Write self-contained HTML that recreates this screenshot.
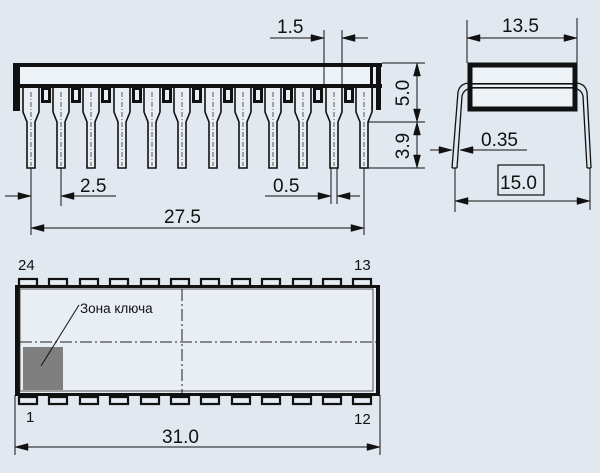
<!DOCTYPE html>
<html><head><meta charset="utf-8"><style>
html,body{margin:0;padding:0;background:#e1e8f0;}
svg{display:block}
text{font-family:"Liberation Sans","DejaVu Sans",sans-serif;fill:#111}
</style></head><body>
<svg width="600" height="473" viewBox="0 0 600 473" xmlns="http://www.w3.org/2000/svg">
<defs>
<g id="pin">
 <path d="M-8,88 V112 L-4,122 V168 H4 V122 L8,112 V88" fill="#e8eef4" stroke="#111" stroke-width="1.6"/>
 <line x1="0" y1="92" x2="0" y2="166" stroke="#333" stroke-width="0.8" stroke-dasharray="5,2,1,2"/>
</g>
<g id="tab"><rect x="-5" y="86" width="10" height="17" fill="#111"/><rect x="-2" y="90" width="4" height="10" fill="#e8eef4"/></g>
<g id="padT"><rect x="-9" y="279" width="18" height="7" fill="#e8eef4" stroke="#111" stroke-width="2.2"/></g>
<g id="padB"><rect x="-9" y="397" width="18" height="7" fill="#e8eef4" stroke="#111" stroke-width="2.2"/></g>
</defs>

<rect x="13" y="63" width="369" height="4" fill="#111"/>
<rect x="13" y="63" width="7" height="48" fill="#111"/>
<rect x="20" y="67" width="355" height="17" fill="#edf2f7"/>
<rect x="13" y="84" width="369" height="4" fill="#111"/>
<rect x="376" y="63" width="5" height="47" fill="#111"/>
<rect x="370" y="67" width="3" height="43" fill="#111"/>
<g>
<use href="#tab" x="46"/><use href="#tab" x="76"/><use href="#tab" x="106"/><use href="#tab" x="137"/><use href="#tab" x="167"/><use href="#tab" x="197"/><use href="#tab" x="228"/><use href="#tab" x="258"/><use href="#tab" x="288"/><use href="#tab" x="318"/><use href="#tab" x="349"/>
<use href="#pin" x="31"/><use href="#pin" x="61"/><use href="#pin" x="91"/><use href="#pin" x="122"/><use href="#pin" x="152"/><use href="#pin" x="182"/><use href="#pin" x="213"/><use href="#pin" x="243"/><use href="#pin" x="273"/><use href="#pin" x="303"/><use href="#pin" x="334"/><use href="#pin" x="364"/>
</g>

<g stroke="#111" stroke-width="1" fill="none">
<line x1="324" y1="30" x2="324" y2="84"/><line x1="342" y1="30" x2="342" y2="84"/>
<line x1="270" y1="38" x2="324" y2="38"/><line x1="342" y1="38" x2="368" y2="38"/>
<line x1="31" y1="168" x2="31" y2="235"/><line x1="61" y1="168" x2="61" y2="206"/>
<line x1="5" y1="196" x2="31" y2="196"/><line x1="61" y1="196" x2="116" y2="196"/>
<line x1="331" y1="168" x2="331" y2="204"/><line x1="337" y1="168" x2="337" y2="204"/>
<line x1="265" y1="196" x2="331" y2="196"/><line x1="337" y1="196" x2="360" y2="196"/>
<line x1="364" y1="168" x2="364" y2="235"/>
<line x1="31" y1="228" x2="364" y2="228"/>
<line x1="382" y1="63" x2="425" y2="63"/><line x1="368" y1="122" x2="425" y2="122"/><line x1="368" y1="168" x2="425" y2="168"/>
<line x1="417" y1="63" x2="417" y2="168"/>
<line x1="467" y1="20" x2="467" y2="63"/><line x1="577" y1="18" x2="577" y2="63"/>
<line x1="467" y1="38" x2="577" y2="38"/>
<line x1="430" y1="150" x2="452" y2="150"/><line x1="460" y1="150" x2="527" y2="150"/>
<line x1="455" y1="168" x2="455" y2="212"/><line x1="590" y1="168" x2="590" y2="210"/>
<line x1="455" y1="201" x2="590" y2="201"/>
<rect x="498" y="165" width="46" height="30" stroke-width="1.2"/>
<line x1="15" y1="395" x2="15" y2="455"/><line x1="380" y1="395" x2="380" y2="455"/>
<line x1="15" y1="447" x2="380" y2="447"/>
</g>
<path fill="#111" stroke="#111" stroke-width="0.5" d="
M311,34.5 L324,38 L311,41.5 Z M355,34.5 L342,38 L355,41.5 Z
M18,192.5 L31,196 L18,199.5 Z M74,192.5 L61,196 L74,199.5 Z
M318,192.5 L331,196 L318,199.5 Z M350,192.5 L337,196 L350,199.5 Z
M44,224.5 L31,228 L44,231.5 Z M351,224.5 L364,228 L351,231.5 Z
M413.5,76 L417,63 L420.5,76 Z M413.5,109 L417,122 L420.5,109 Z
M413.5,135 L417,122 L420.5,135 Z M413.5,155 L417,168 L420.5,155 Z
M480,34.5 L467,38 L480,41.5 Z M564,34.5 L577,38 L564,41.5 Z
M439,146.5 L452,150 L439,153.5 Z M473,146.5 L460,150 L473,153.5 Z
M468,197.5 L455,201 L468,204.5 Z M577,197.5 L590,201 L577,204.5 Z
M28,443.5 L15,447 L28,450.5 Z M367,443.5 L380,447 L367,450.5 Z"/>

<g fill="none" stroke="#111">
<path d="M470,83 Q460,83 458,92 L452,168 M474,88 Q464,88 462,96 L457,168 M452,168 H457" stroke-width="1.3"/>
<path d="M575,83 Q585,83 587,92 L591,168 M571,88 Q581,88 583,96 L587,168 M587,168 H591" stroke-width="1.3"/>
<rect x="470" y="65" width="105" height="44" stroke-width="5" fill="#edf2f7"/>
</g>
<rect x="468" y="83" width="109" height="1.6" fill="#111"/>
<rect x="468" y="87" width="109" height="1.6" fill="#111"/>

<g>
<use href="#padT" x="28"/><use href="#padT" x="58"/><use href="#padT" x="89"/><use href="#padT" x="119"/><use href="#padT" x="150"/><use href="#padT" x="180"/><use href="#padT" x="210"/><use href="#padT" x="241"/><use href="#padT" x="271"/><use href="#padT" x="302"/><use href="#padT" x="332"/><use href="#padT" x="362"/>
<use href="#padB" x="28"/><use href="#padB" x="58"/><use href="#padB" x="89"/><use href="#padB" x="119"/><use href="#padB" x="150"/><use href="#padB" x="180"/><use href="#padB" x="210"/><use href="#padB" x="241"/><use href="#padB" x="271"/><use href="#padB" x="302"/><use href="#padB" x="332"/><use href="#padB" x="362"/>
</g>
<rect x="15" y="286" width="365" height="110" fill="#e8eef4" stroke="none"/>
<rect x="15" y="285" width="365" height="3" fill="#111"/>
<rect x="15" y="393" width="365" height="3" fill="#111"/>
<rect x="15" y="285" width="5" height="111" fill="#111"/>
<rect x="376" y="285" width="4" height="111" fill="#111"/>
<rect x="20" y="289" width="353" height="102" fill="none" stroke="#333" stroke-width="0.8"/>
<line x1="20" y1="342" x2="376" y2="342" stroke="#222" stroke-width="1" stroke-dasharray="12,3,2,3"/>
<line x1="182" y1="289" x2="182" y2="393" stroke="#222" stroke-width="1" stroke-dasharray="12,3,2,3"/>
<rect x="23" y="347" width="40" height="43" fill="#7f7f7f"/>
<line x1="41" y1="366" x2="79" y2="305" stroke="#111" stroke-width="1"/>

<g font-size="19">
<text x="277" y="33">1.5</text>
<text x="80" y="192">2.5</text>
<text x="273" y="192">0.5</text>
<text x="164" y="223">27.5</text>
<text x="502" y="32">13.5</text>
<text x="481" y="146">0.35</text>
<text x="500" y="189">15.0</text>
<text x="162" y="443">31.0</text>
<text transform="translate(409,93) rotate(-90)" text-anchor="middle">5.0</text>
<text transform="translate(409,146) rotate(-90)" text-anchor="middle">3.9</text>
</g>
<g font-size="15">
<text x="18" y="270">24</text>
<text x="354" y="270">13</text>
<text x="26" y="422">1</text>
<text x="354" y="424">12</text>
<text x="80" y="313" font-size="13.5">Зона ключа</text>
</g>
</svg>
</body></html>
